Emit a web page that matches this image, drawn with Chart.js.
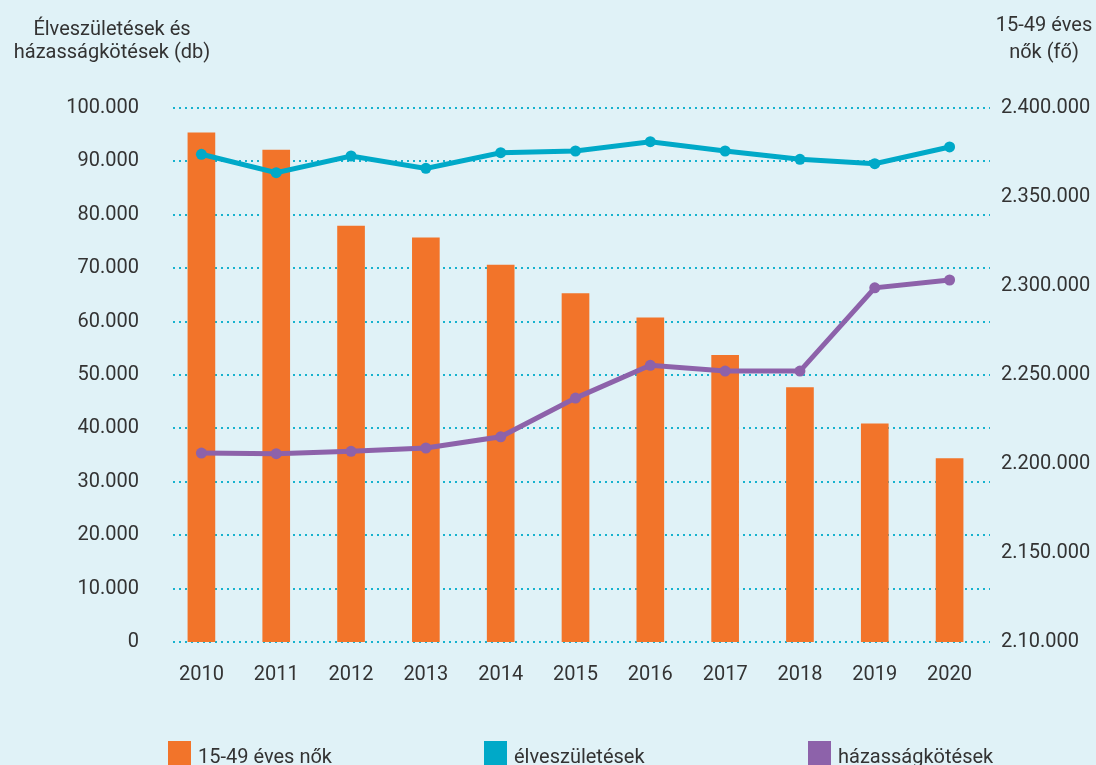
<!DOCTYPE html>
<html lang="hu">
<head>
<meta charset="utf-8">
<title>Élveszületések, házasságkötések, 15-49 éves nők</title>
<script src="https://cdn.jsdelivr.net/npm/chart.js@4.4.1/dist/chart.umd.min.js"></script>
<style>
  html, body { margin: 0; padding: 0; background: #e0f2f7; }
  #wrap { position: relative; width: 1096px; height: 765px; overflow: hidden; font-family: Roboto, sans-serif; color: #333; }
  #chart { position: absolute; left: 0; top: 0; }
  .axis-title { position: absolute; font-size: 20px; line-height: 23px; text-align: center; white-space: nowrap; }
  #title-left { left: 2px; width: 220px; top: 17px; }
  #title-right { left: 984px; width: 120px; top: 11px; line-height: 27px; }
  .legend-item { position: absolute; top: 741px; height: 24px; font-size: 20px; white-space: nowrap; }
  .legend-item span.box { position: absolute; left: 0; top: 0; width: 23px; height: 24px; }
  .legend-item span.txt { position: absolute; left: 30px; top: 3px; line-height: 24px; }
</style>
</head>
<body>
<div id="wrap">
  <canvas id="chart" width="1096" height="765"></canvas>
  <div class="axis-title" id="title-left">Élveszületések és<br>házasságkötések (db)</div>
  <div class="axis-title" id="title-right">15-49 éves<br>nők (fő)</div>
  <div id="legend"></div>
</div>
<script>
  // évek
  const years = ["2010", "2011", "2012", "2013", "2014", "2015", "2016", "2017", "2018", "2019", "2020"];

  // 15-49 éves nők (fő) - jobb tengely
  const women = [2386000, 2376400, 2333700, 2327000, 2311800, 2295800, 2282100, 2261100, 2242900, 2222500, 2203100];

  // élveszületések (db) - bal tengely
  const births = [91330, 87890, 91010, 88700, 91630, 91950, 93690, 91950, 90390, 89570, 92700];

  // házasságkötések (db) - bal tengely
  const marriages = [35390, 35260, 35710, 36330, 38430, 45670, 51820, 50730, 50730, 66330, 67790];

  // tengelyfeliratok
  const leftTickLabels = ["0", "10.000", "20.000", "30.000", "40.000", "50.000", "60.000", "70.000", "80.000", "90.000", "100.000"];
  const rightTickLabels = ["2.10.000", "2.150.000", "2.200.000", "2.250.000", "2.300.000", "2.350.000", "2.400.000"];

  const seriesNames = ["15-49 éves nők", "élveszületések", "házasságkötések"];
  const legendX = [168, 484, 808];

  const ORANGE = "#f2742a";
  const CYAN = "#00a9c8";
  const PURPLE = "#8d62aa";
  const GRID = "#17b2ce";
  const TEXT = "#333333";

  Chart.defaults.font.family = "Roboto, sans-serif";
  Chart.defaults.color = TEXT;

  // pontozott rácsvonalak a bal tengely osztásainál (173 px-től 990 px-ig)
  const dottedGrid = {
    id: "dottedGrid",
    beforeDatasetsDraw(c) {
      const y = c.scales.y;
      const g = c.ctx;
      g.save();
      g.strokeStyle = GRID;
      g.lineWidth = 2;
      g.setLineDash([2, 4]);
      y.ticks.forEach((t) => {
        const py = Math.round(y.getPixelForValue(t.value));
        g.beginPath();
        g.moveTo(173, py);
        g.lineTo(990, py);
        g.stroke();
      });
      g.restore();
    },
  };

  const ctx = document.getElementById("chart");
  const chart = new Chart(ctx, {
    type: "bar",
    data: {
      labels: years,
      datasets: [
        {
          type: "line",
          label: seriesNames[1],
          data: births,
          yAxisID: "y",
          borderColor: CYAN,
          backgroundColor: CYAN,
          borderWidth: 5,
          pointRadius: 5.5,
          pointBackgroundColor: CYAN,
          pointBorderWidth: 0,
          tension: 0,
          order: 0,
        },
        {
          type: "line",
          label: seriesNames[2],
          data: marriages,
          yAxisID: "y",
          borderColor: PURPLE,
          backgroundColor: PURPLE,
          borderWidth: 5,
          pointRadius: 5.5,
          pointBackgroundColor: PURPLE,
          pointBorderWidth: 0,
          tension: 0,
          order: 1,
        },
        {
          type: "bar",
          label: seriesNames[0],
          data: women,
          yAxisID: "y1",
          backgroundColor: ORANGE,
          borderWidth: 0,
          barThickness: 27,
          order: 2,
        },
      ],
    },
    options: {
      responsive: false,
      animation: false,
      layout: { padding: { top: 108, left: 0, right: 0, bottom: 0 } },
      plugins: {
        legend: { display: false },
        tooltip: { enabled: false },
      },
      scales: {
        x: {
          offset: true,
          grid: { display: false },
          border: { display: false },
          ticks: { font: { size: 20 }, color: TEXT, padding: 13 },
          afterFit: (scale) => { scale.height = 123; },
        },
        y: {
          position: "left",
          min: 0,
          max: 100000,
          border: { display: false },
          grid: { display: false, drawTicks: false },
          ticks: {
            stepSize: 10000,
            font: { size: 20 },
            color: TEXT,
            padding: 25,
            callback: (v, i) => leftTickLabels[i],
          },
          afterFit: (scale) => { scale.width = 164; },
        },
        y1: {
          position: "right",
          min: 2100000,
          max: 2400000,
          border: { display: false },
          grid: { display: false, drawTicks: false },
          ticks: {
            stepSize: 50000,
            font: { size: 20 },
            color: TEXT,
            padding: 14,
            callback: (v, i) => rightTickLabels[i],
          },
          afterFit: (scale) => { scale.width = 109; },
        },
      },
    },
    plugins: [dottedGrid],
  });

  // HTML jelmagyarázat
  const legendEl = document.getElementById("legend");
  const order = [2, 0, 1];
  order.forEach((dsIndex, i) => {
    const ds = chart.data.datasets[dsIndex];
    const item = document.createElement("div");
    item.className = "legend-item";
    item.style.left = legendX[i] + "px";
    const box = document.createElement("span");
    box.className = "box";
    box.style.background = ds.backgroundColor;
    const txt = document.createElement("span");
    txt.className = "txt";
    txt.textContent = ds.label;
    item.appendChild(box);
    item.appendChild(txt);
    legendEl.appendChild(item);
  });
</script>
</body>
</html>
